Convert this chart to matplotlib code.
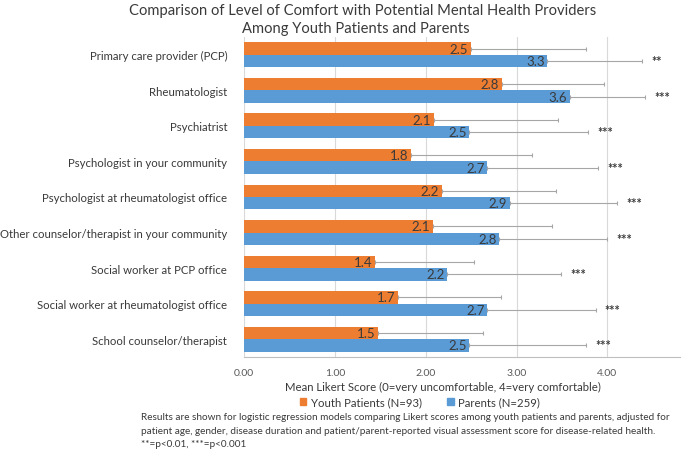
import matplotlib
matplotlib.use('Agg')
import matplotlib.pyplot as plt
import numpy as np

plt.rcParams['font.family'] = ['Lato', 'DejaVu Sans']

categories = ['Primary care provider (PCP)', 'Rheumatologist', 'Psychiatrist',
              'Psychologist in your community', 'Psychologist at rheumatologist office',
              'Other counselor/therapist in your community', 'Social worker at PCP office',
              'Social worker at rheumatologist office', 'School counselor/therapist']
youth = [2.50, 2.84, 2.09, 1.84, 2.18, 2.08, 1.44, 1.70, 1.48]
parents = [3.34, 3.59, 2.48, 2.68, 2.93, 2.81, 2.24, 2.68, 2.48]
youth_err = [1.26, 1.12, 1.37, 1.33, 1.26, 1.31, 1.09, 1.13, 1.15]
parents_err = [1.04, 0.83, 1.31, 1.22, 1.18, 1.19, 1.25, 1.19, 1.29]
signif = ['**', '***', '***', '***', '***', '***', '***', '***', '***']

orange = '#ED7D31'
blue = '#5B9BD5'
txt = '#3A3A3A'

fig = plt.figure(figsize=(6.85, 4.52), dpi=100)
ax = fig.add_axes([244/685, 1-358/452, 436/685, 320/452])

y = np.arange(len(categories))
h = 0.35
n = len(categories)
ax.barh(y - h/2, youth, height=h, color=orange, zorder=2)
ax.barh(y + h/2, parents, height=h, color=blue, zorder=2)
ax.errorbar(youth, y - h/2, xerr=[[0]*n, youth_err], fmt='none', ecolor='#A6A6A6',
            elinewidth=0.8, capsize=1.5, capthick=0.8, zorder=3)
ax.errorbar(parents, y + h/2, xerr=[[0]*n, parents_err], fmt='none', ecolor='#A6A6A6',
            elinewidth=0.8, capsize=1.5, capthick=0.8, zorder=3)

for i in range(n):
    ax.text(youth[i] - 0.03, y[i] - h/2, '%.1f' % youth[i], ha='right', va='center',
            fontsize=9.5, color=txt, zorder=4)
    ax.text(parents[i] - 0.03, y[i] + h/2, '%.1f' % parents[i], ha='right', va='center',
            fontsize=9.5, color=txt, zorder=4)
    ax.text(parents[i] + parents_err[i] + 0.1, y[i] + h/2, signif[i], ha='left', va='center',
            fontsize=9, color=txt, fontweight='bold')

ax.set_ylim(n - 0.5, -0.5)
ax.set_xlim(0, 4.8)
ax.set_xticks([0, 1, 2, 3, 4])
ax.set_xticklabels(['0.00', '1.00', '2.00', '3.00', '4.00'], fontsize=7.5, color='#595959')
ax.set_yticks(y)
ax.set_yticklabels(categories, fontsize=8.2, color=txt)
ax.tick_params(axis='y', length=0, pad=12)
ax.tick_params(axis='x', length=0, pad=8)
ax.grid(axis='x', color='#D9D9D9', lw=0.8, zorder=0)
for s in ['top', 'right', 'left']:
    ax.spines[s].set_visible(False)
ax.spines['bottom'].set_color('#BFBFBF')

fig.text(443/685, 1-387/452, 'Mean Likert Score (0=very uncomfortable, 4=very comfortable)',
         ha='center', va='center', fontsize=8.2, color=txt)

fig.text(363/685, 1-11/452, 'Comparison of Level of Comfort with Potential Mental Health Providers',
         ha='center', va='center', fontsize=10.6, color=txt)
fig.text(356/685, 1-29/452, 'Among Youth Patients and Parents',
         ha='center', va='center', fontsize=10.6, color=txt)

hy = plt.Rectangle((0, 0), 1, 1, color=orange)
hp = plt.Rectangle((0, 0), 1, 1, color=blue)
fig.legend([hy, hp], ['Youth Patients (N=93)', 'Parents (N=259)'], loc='center',
           bbox_to_anchor=(420/685, 1-403/452), ncol=2, frameon=False, fontsize=8.2,
           handlelength=0.6, handleheight=0.6, handletextpad=0.4, columnspacing=2.2,
           labelcolor=txt, borderpad=0)

notes = ['Results are shown for logistic regression models comparing Likert scores among youth patients and parents, adjusted for',
         'patient age, gender, disease duration and patient/parent-reported visual assessment score for disease-related health.',
         '**=p<0.01, ***=p<0.001']
for k, line in enumerate(notes):
    fig.text(141/685, 1-(418 + 13.5*k)/452, line, ha='left', va='center', fontsize=7.2, color=txt)

fig.savefig('out.png', dpi=100)
